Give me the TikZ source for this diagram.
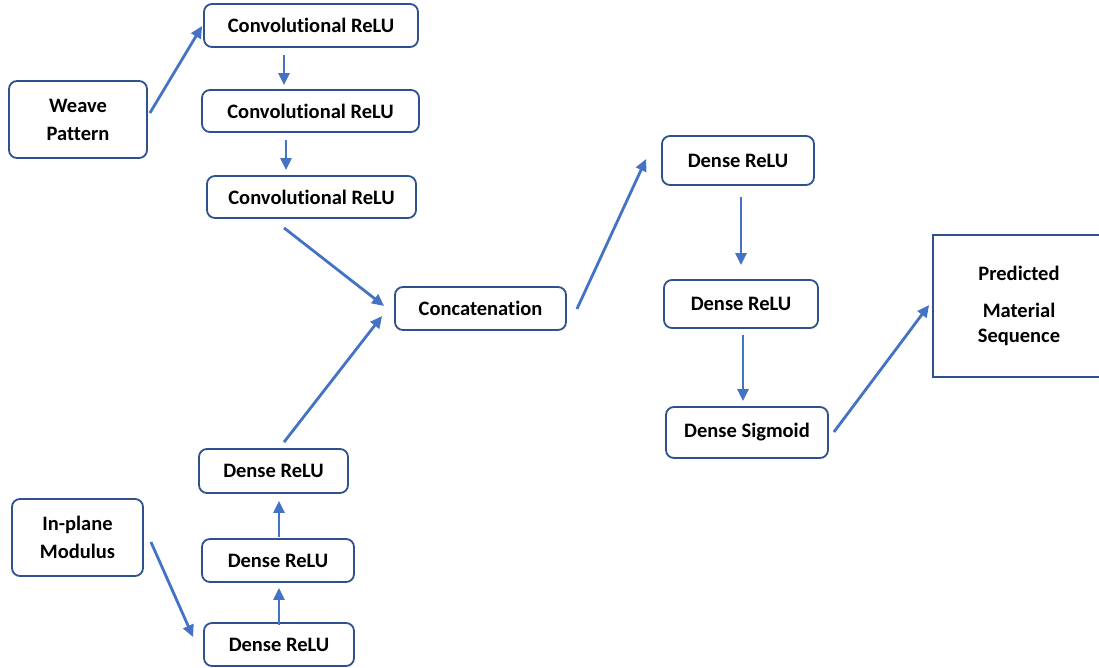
\documentclass[tikz,border=0pt]{standalone}
\usepackage{fontspec}
\setmainfont{Carlito}[Ligatures=CommonOff]
\usetikzlibrary{calc,arrows.meta}
\definecolor{boxline}{HTML}{2F528F}
\definecolor{arrowblue}{HTML}{4472C4}
\tikzset{
  layer/.style={draw=boxline, line width=1.8pt, rounded corners=8pt, fill=white,
    inner sep=0pt, align=center, font=\bfseries\fontsize{20.5}{28}\selectfont},
  outbox/.style={layer, rounded corners=0pt},
  flow/.style={draw=arrowblue, line width=2.8pt,
    -{Triangle[length=12pt,width=11pt]}},
}
\begin{document}
\begin{tikzpicture}[x=1pt,y=-1pt]
\useasboundingbox (0,0) rectangle (1099,668);
\clip (0,0) rectangle (1099,668);

% input branches
\node[layer, minimum width=138pt, minimum height=77pt] (weave) at (78,119.5) {Weave\\Pattern};
\node[layer, minimum width=131pt, minimum height=77pt] (inp) at (77.5,537.5) {In-plane\\Modulus};

% convolutional stack
\node[layer, minimum width=214pt, minimum height=43pt] (c1) at (311,25.5) {Convolutional ReLU};
\node[layer, minimum width=217pt, minimum height=42pt] (c2) at (310.5,111) {Convolutional ReLU};
\node[layer, minimum width=209pt, minimum height=42pt] (c3) at (311.5,197) {Convolutional ReLU};

% dense stack for the modulus
\node[layer, minimum width=149pt, minimum height=44pt] (d3) at (273.5,471) {Dense ReLU};
\node[layer, minimum width=152pt, minimum height=43pt] (d2) at (278,560.5) {Dense ReLU};
\node[layer, minimum width=150pt, minimum height=43pt] (d1) at (279,644.5) {Dense ReLU};

% merge and head
\node[layer, minimum width=171pt, minimum height=43pt] (cat) at (480.5,308.5) {Concatenation};
\node[layer, minimum width=152pt, minimum height=49pt] (d4) at (738,160.5) {Dense ReLU};
\node[layer, minimum width=154pt, minimum height=48pt] (d5) at (741,304) {Dense ReLU};
\node[layer, minimum width=162pt, minimum height=51pt] (sig) at (747,432.5) {Dense Sigmoid};
\node[outbox, minimum width=172pt, minimum height=142pt] (pred) at (1019,306)
  {Predicted\\[9pt]Material\\[-3pt]Sequence};

% connectors
\draw[flow] ($(weave.east)+(2,-6.5)$) -- ($(c1.west)+(-1,0.5)$);
\draw[flow] ($(c1.south)+(-27,7)$) -- ($(c2.north)+(-26.5,-4)$);
\draw[flow] ($(c2.south)+(-24.5,7)$) -- ($(c3.north)+(-25.5,-5)$);
\draw[flow] ($(c3.south)+(-27.5,9)$) -- ($(cat.west)+(-10,-2.5)$);
\draw[flow] ($(d3.north)+(10.5,-6)$) -- ($(cat.west)+(-12,7.5)$);
\draw[flow] ($(cat.east)+(10,0.5)$) -- ($(d4.west)+(-15,-1.5)$);
\draw[flow] ($(d4.south)+(3,11)$) -- ($(d5.north)+(0,-14)$);
\draw[flow] ($(d5.south)+(2,6)$) -- ($(sig.north)+(-4,-5)$);
\draw[flow] ($(sig.east)+(5,-0.5)$) -- ($(pred.west)+(-3,-1)$);
\draw[flow] ($(inp.east)+(7,4.5)$) -- ($(d1.west)+(-10,-7.5)$);
\draw[flow] ($(d1.north)+(0,3)$) -- ($(d2.south)+(1,5)$);
\draw[flow] ($(d2.north)+(1,-1)$) -- ($(d3.south)+(5.5,7)$);
\end{tikzpicture}
\end{document}
